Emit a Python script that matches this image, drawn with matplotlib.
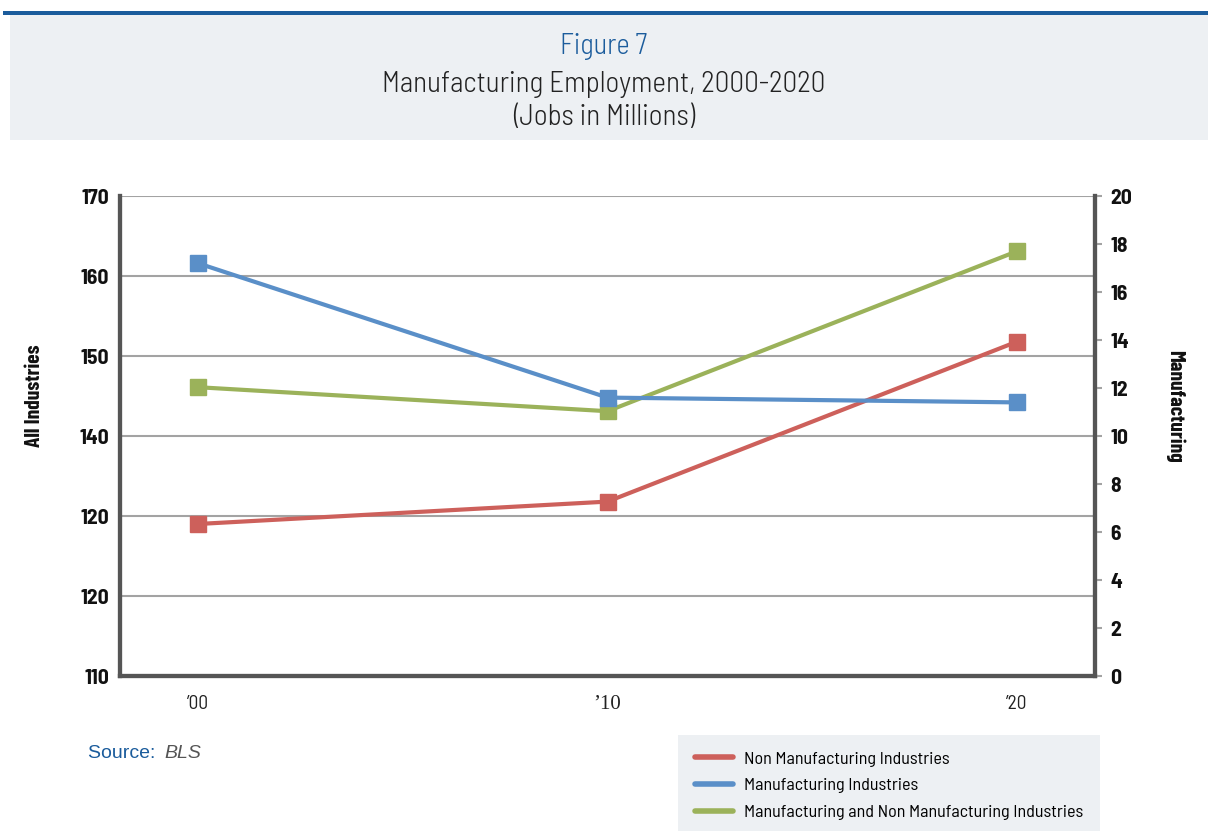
import matplotlib
matplotlib.use("Agg")
import matplotlib.pyplot as plt
from matplotlib.patches import Rectangle
from matplotlib.lines import Line2D

# employment, millions of jobs
years = ["\u201900", "\u201910", "\u201920"]
non_mfg = [129.0, 131.8, 151.8]      # left axis
all_ind = [146.1, 143.1, 163.1]      # left axis
mfg = [17.2, 11.6, 11.4]             # right axis

left_ticks = [110, 120, 130, 140, 150, 160, 170]
left_labels = ["110", "120", "120", "140", "150", "160", "170"]
right_ticks = list(range(0, 21, 2))

red = "#cd605b"
blue = "#5a8fc8"
green = "#9bb25a"
navy = "#1b5c9c"
band = "#edf0f3"

narrow = ["Barlow Condensed", "DejaVu Sans"]
semi = ["Barlow Semi Condensed", "DejaVu Sans"]
plt.rcParams["font.family"] = narrow
plt.rcParams["font.stretch"] = "condensed"

fig = plt.figure(figsize=(12.08, 8.31), dpi=100)

# header band
fig.patches.append(Rectangle((10/1208, 1-140/831), 1198/1208, 126/831,
                             transform=fig.transFigure, facecolor=band,
                             edgecolor="none", zorder=0))
fig.patches.append(Rectangle((3/1208, 1-15/831), 1205/1208, 4/831,
                             transform=fig.transFigure, facecolor=navy,
                             edgecolor="none", zorder=1))
fig.text(0.5, 1-47/831, "Figure 7", ha="center", va="center",
         fontsize=20.5, color=navy, fontweight=300, family=semi)
fig.text(0.5, 1-85/831, "Manufacturing Employment, 2000-2020", ha="center",
         va="center", fontsize=21, color="#222222", fontweight=300, family=semi)
fig.text(0.5, 1-117/831, "(Jobs in Millions)", ha="center", va="center",
         fontsize=21, color="#222222", fontweight=300, family=semi)

ax = fig.add_axes([120/1208, 1-676/831, 975/1208, 480/831])
ax2 = ax.twinx()

x = range(len(years))
ax.plot(x, non_mfg, color=red, lw=3, marker="s", ms=12, zorder=3)
ax.plot(x, all_ind, color=green, lw=3, marker="s", ms=12, zorder=3)
ax2.plot(x, mfg, color=blue, lw=3, marker="s", ms=12, zorder=3)

ax.set_xlim(-0.19, 2.19)
ax.set_ylim(110, 170)
ax2.set_ylim(0, 20)

ax.set_xticks(list(x))
ax.set_xticklabels(years, fontsize=14, color="#222222", family=semi)
ax.get_xticklabels()[1].set_family(["Liberation Serif", "DejaVu Serif"])
ax.get_xticklabels()[1].set_fontsize(15)
ax.tick_params(axis="x", length=0, pad=14)
ax.set_yticks(left_ticks)
ax.set_yticklabels(left_labels, fontsize=15.5, fontweight="bold",
                   color="#111111", family=semi)
ax.tick_params(axis="y", length=0, pad=8)
ax.yaxis.grid(True, color="#a3a3a3", lw=1.5)
ax.set_axisbelow(True)

ax2.set_yticks(right_ticks)
ax2.set_yticklabels([str(t) for t in right_ticks], fontsize=15.5,
                    fontweight="bold", color="#111111", family=semi)
ax2.tick_params(axis="y", length=5, width=1.5, color="#a3a3a3", pad=6)

for a in (ax, ax2):
    a.spines["top"].set_visible(False)
    for s in ("left", "right", "bottom"):
        a.spines[s].set_color("#555555")
        a.spines[s].set_linewidth(3)

ax.set_ylabel("All Industries", fontsize=15.5, fontweight="bold",
              color="#111111")
ax.yaxis.set_label_coords(-0.078, 0.583)
ax2.set_ylabel("Manufacturing", fontsize=15.5, fontweight="bold",
               color="#111111", rotation=-90, va="center")
ax2.yaxis.set_label_coords(1.082, 0.5625)

# source note
fig.text(88/1208, 1-754/831, "Source: ", ha="left", va="center",
         fontsize=14, color=navy, family=["Liberation Sans", "DejaVu Sans"],
         stretch="normal")
fig.text(164/1208, 1-754/831, "BLS", ha="left", va="center",
         fontsize=14, color="#555555", style="italic",
         family=["Liberation Sans", "DejaVu Sans"], stretch="normal")

# legend panel
fig.patches.append(Rectangle((678/1208, 0), 422/1208, 96/831,
                             transform=fig.transFigure, facecolor=band,
                             edgecolor="none", zorder=0))
handles = [Line2D([], [], color=red, lw=4, solid_capstyle="round"),
           Line2D([], [], color=blue, lw=4, solid_capstyle="round"),
           Line2D([], [], color=green, lw=4, solid_capstyle="round")]
labels = ["Non Manufacturing Industries", "Manufacturing Industries",
          "Manufacturing and Non Manufacturing Industries"]
fig.legend(handles, labels, loc="upper left",
           bbox_to_anchor=(695/1208, 1-751/831), frameon=False,
           prop={"family": semi, "size": 13},
           handlelength=2.1, handletextpad=0.6, labelspacing=0.62,
           borderaxespad=0, borderpad=0)

fig.savefig("out.png", dpi=100)
